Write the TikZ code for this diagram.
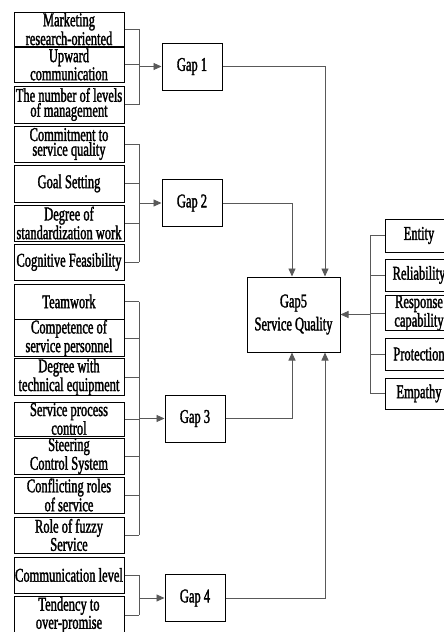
\documentclass[tikz,border=0pt]{standalone}
\usepackage{fontspec}
\setmainfont[FakeStretch=0.64,FakeBold=1.6]{Liberation Serif}
\usetikzlibrary{arrows.meta}

\tikzset{
  box/.style={draw=black, line width=1pt, inner sep=0pt, align=center,
    font=\fontsize{19.5}{13.5}\selectfont},
  factor/.style={box, minimum width=110pt},
  gapbox/.style={box, minimum width=60pt, minimum height=47pt},
  dim/.style={box, minimum width=68pt},
  link/.style={draw=black!65, line width=0.9pt},
  feed/.style={link, -{Triangle[length=8pt,width=7pt]}}
}

\begin{document}
\begin{tikzpicture}[x=1pt,y=-1pt]
\useasboundingbox (0,0) rectangle (444,632);
\clip (0,0) rectangle (444,632);

% service-gap factors
\node[factor, minimum height=34] (m1)  at (69,29)    {Marketing\\research-oriented};
\node[factor, minimum height=35] (m2)  at (69,64.5)  {Upward\\communication};
\node[factor, minimum height=37] (m3)  at (69,104.5) {The number of levels\\of management};
\node[factor, minimum height=36] (m4)  at (69,144)   {Commitment to\\service quality};
\node[factor, minimum height=37] (m5)  at (69,183.5) {Goal Setting};
\node[factor, minimum height=36] (m6)  at (69,223)   {Degree of\\standardization work};
\node[factor, minimum height=36] (m7)  at (69,262)   {Cognitive Feasibility};
\node[factor, minimum height=35] (m8)  at (69,301.5) {Teamwork};
\node[factor, minimum height=36] (m9)  at (69,338)   {Competence of\\service personnel};
\node[factor, minimum height=36] (m10) at (69,377)   {Degree with\\technical equipment};
\node[factor, minimum height=34] (m11) at (69,419)   {Service process\\control};
\node[factor, minimum height=36] (m12) at (69,456)   {Steering\\Control System};
\node[factor, minimum height=36] (m13) at (69,495)   {Conflicting roles\\of service};
\node[factor, minimum height=36] (m14) at (69,535)   {Role of fuzzy\\Service};
\node[factor, minimum height=36] (m15) at (69,575)   {Communication level};
\node[factor, minimum height=38] (m16) at (69,615)   {Tendency to\\over-promise};

% the five gaps
\node[gapbox] (g1) at (192,66.5)  {Gap 1};
\node[gapbox] (g2) at (192,203)   {Gap 2};
\node[gapbox] (g3) at (195,418.5) {Gap 3};
\node[gapbox] (g4) at (195,598)   {Gap 4};
\node[box, minimum width=93pt, minimum height=75pt,
      font=\fontsize{19.5}{23}\selectfont] (g5) at (293.5,314.5) {Gap5\\Service Quality};

% quality dimensions
\node[dim, minimum height=33] (r1) at (419,235.5) {Entity};
\node[dim, minimum height=32] (r2) at (419,275)   {Reliability};
\node[dim, minimum height=30, font=\fontsize{19.5}{12}\selectfont] (r3) at (419,313) {Response\\capability};
\node[dim, minimum height=32] (r4) at (419,354)   {Protection};
\node[dim, minimum height=31] (r5) at (419,393.5) {Empathy};

% bracket and entry columns
\coordinate (bx) at (139,0);
\coordinate (rx) at (370,0);
\coordinate (xa) at (292,0);
\coordinate (xb) at (325,0);

% group 1
\foreach \n in {m1,m2,m3} \draw[link] (\n.east) -- (\n.east -| bx);
\draw[link] (m1.east -| bx) -- (m3.east -| bx);
\draw[feed] (g1.west -| bx) -- (g1.west);

% group 2
\foreach \n in {m4,m5,m6,m7} \draw[link] (\n.east) -- (\n.east -| bx);
\draw[link] (m4.east -| bx) -- (m7.east -| bx);
\draw[feed] (g2.west -| bx) -- (g2.west);

% group 3
\foreach \n in {m8,m9,m10,m11,m12,m13,m14} \draw[link] (\n.east) -- (\n.east -| bx);
\draw[link] (m8.east -| bx) -- (m14.east -| bx);
\draw[feed] (g3.west -| bx) -- (g3.west);

% group 4
\foreach \n in {m15,m16} \draw[link] (\n.east) -- (\n.east -| bx);
\draw[link] (m15.east -| bx) -- (m16.east -| bx);
\draw[feed] (g4.west -| bx) -- (g4.west);

% gaps into gap 5
\draw[feed] (g2.east) -| (g5.north -| xa);
\draw[feed] (g1.east) -| (g5.north -| xb);
\draw[feed] (g3.east) -| (g5.south -| xa);
\draw[feed] (g4.east) -| (g5.south -| xb);

% dimensions into gap 5
\foreach \n in {r1,r2,r3,r4,r5} \draw[link] (\n.west) -- (\n.west -| rx);
\draw[link] (r1.west -| rx) -- (r5.west -| rx);
\draw[feed] (g5.east -| rx) -- (g5.east);
\end{tikzpicture}
\end{document}
